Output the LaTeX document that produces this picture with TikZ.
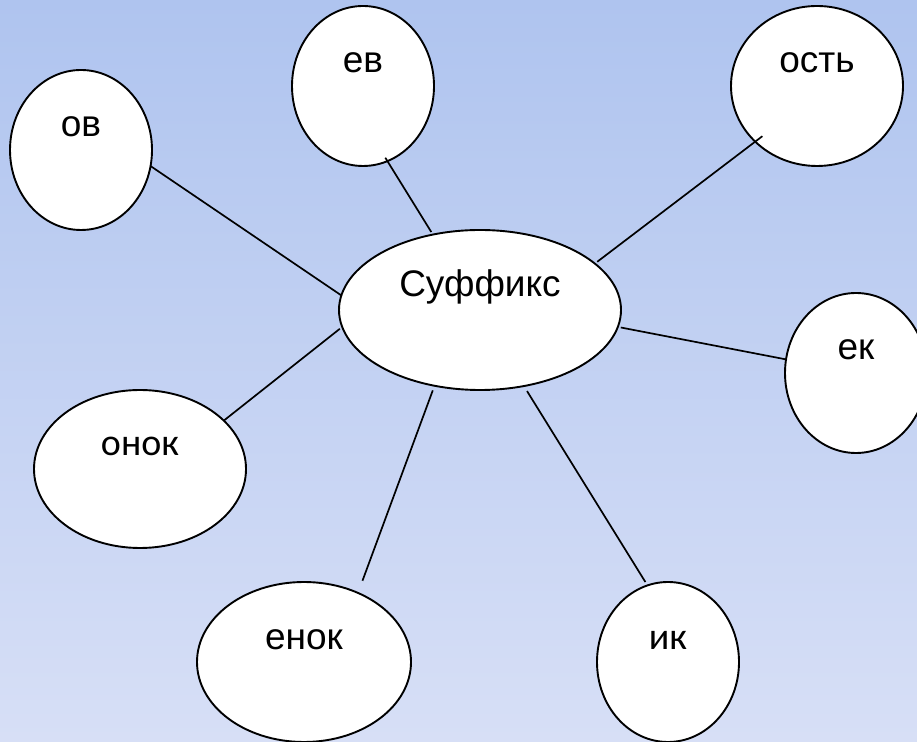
\documentclass[tikz,border=0pt]{standalone}
\usepackage{fontspec}
\setmainfont{Liberation Sans}
\newfontfamily\calibrifont{Carlito}
\usetikzlibrary{shapes.geometric}
\definecolor{slidetop}{HTML}{AFC4EF}
\definecolor{slidebottom}{HTML}{D7DFF6}
\tikzset{
    part/.style={ellipse, draw=black, line width=1.9pt, fill=white, inner sep=0pt, outer sep=0pt,
        minimum width=142pt, minimum height=160pt},
    word/.style={anchor=base, inner sep=0pt, font=\fontsize{37}{40}\selectfont},
    calword/.style={word, font=\calibrifont\fontsize{38}{40}\selectfont},
    link/.style={line width=1.7pt}
}

\begin{document}
\begin{tikzpicture}[x=1pt, y=1pt]
    \shade[top color=slidetop, bottom color=slidebottom] (0,0) rectangle (917,741);
    \useasboundingbox (0,0) rectangle (917,741);

    % centre and the seven endings
    \node[part, minimum width=282pt] (suf) at (480,431) {};
    \node[part] (ov) at (81,591) {};
    \node[part] (ev) at (363,655) {};
    \node[part, minimum width=172pt] (ost) at (817,655) {};
    \node[part] (ek) at (856,368) {};
    \node[part, minimum width=212pt, minimum height=158pt] (onok) at (140,272) {};
    \node[part, minimum width=214pt] (enok) at (304,79) {};
    \node[part] (ik) at (668,79) {};

    \node[word] (suf-w) at ([yshift=13pt]suf.center) {Суффикс};
    \node[word] (ov-w) at ([yshift=13pt]ov.center) {ов};
    \node[word] (ev-w) at ([yshift=13pt]ev.center) {ев};
    \node[word] (ost-w) at ([yshift=13pt]ost.center) {ость};
    \node[word] (ek-w) at ([yshift=13pt]ek.center) {ек};
    \node[calword] (onok-w) at ([yshift=13pt]onok.center) {онок};
    \node[word] (enok-w) at ([yshift=13pt]enok.center) {енок};
    \node[calword] (ik-w) at ([yshift=13pt]ik.center) {ик};

    \draw[link] (ov.-13) -- (suf.174);
    \draw[link, shorten <=-4pt, shorten >=3pt] (ev.-72) -- (suf.122);
    \draw[link, shorten <=3pt, shorten >=-9pt] (suf.22) -- (ost.-138);
    \draw[link, shorten <=3pt] (suf.-7) -- (ek.169);
    \draw[link, shorten >=3pt] (onok.30) -- (suf.-173);
    \draw[link, shorten <=13pt, shorten >=5pt] (enok.52) -- (suf.-121);
    \draw[link, shorten <=6pt, shorten >=4pt] (suf.-60) -- (ik.105);
\end{tikzpicture}
\end{document}
